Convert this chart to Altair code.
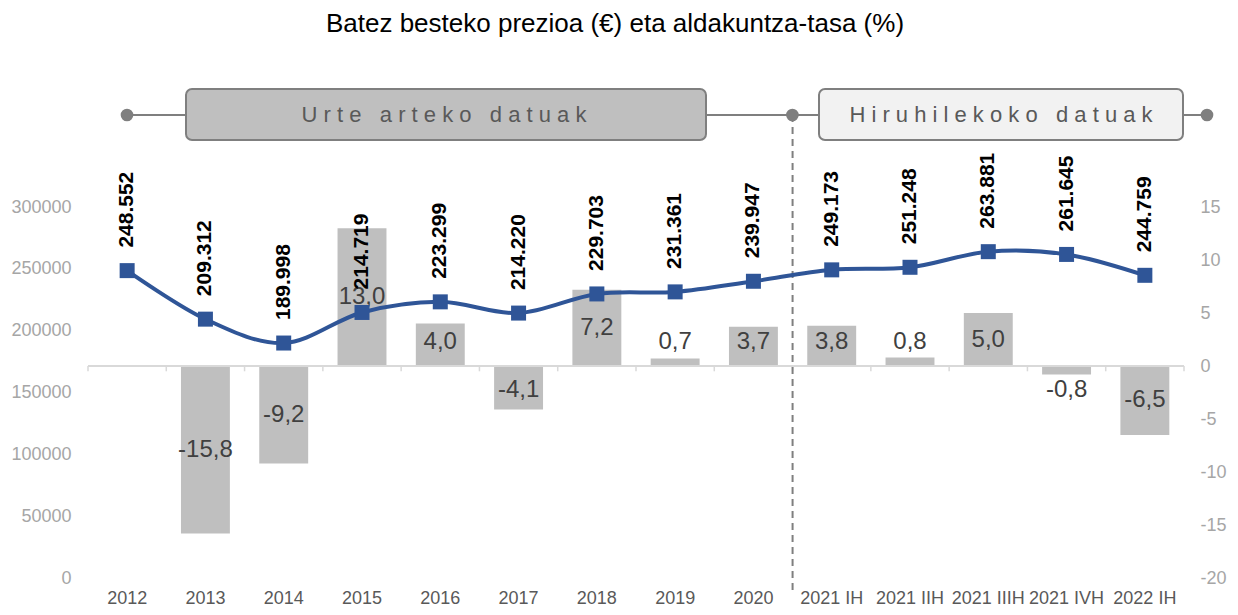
import altair as alt
import pandas as pd

# ---------------- data ----------------
categories = ["2012", "2013", "2014", "2015", "2016", "2017", "2018", "2019", "2020",
              "2021 IH", "2021 IIH", "2021 IIIH", "2021 IVH", "2022 IH"]
prices = [248552, 209312, 189998, 214719, 223299, 214220, 229703, 231361, 239947,
          249173, 251248, 263881, 261645, 244759]
rates = [None, -15.8, -9.2, 13.0, 4.0, -4.1, 7.2, 0.7, 3.7, 3.8, 0.8, 5.0, -0.8, -6.5]
left_ticks = [0, 50000, 100000, 150000, 200000, 250000, 300000]
right_ticks = [-20, -15, -10, -5, 0, 5, 10, 15]
title_text = "Batez besteko prezioa (€) eta aldakuntza-tasa (%)"
banner_labels = ["Urte arteko datuak", "Hiruhilekoko datuak"]
split_category = "2021 IH"

price_labels = [f"{p:,}".replace(",", ".") for p in prices]
rate_labels = ["" if r is None else f"{r:.1f}".replace(".", ",") for r in rates]

NB = "\u00a0"


def spaced(s):
    return (NB * 3).join(NB.join(w) for w in s.split(" "))


df = pd.DataFrame({"cat": categories, "price": prices, "rate": rates,
                   "price_label": price_labels, "rate_label": rate_labels})
one = pd.DataFrame({"k": [0]})

FONT = "Liberation Sans"
GRAY = "#7F7F7F"
BLUE = "#2F5597"

xscale = alt.Scale(domain=categories, paddingInner=0, paddingOuter=0)
x_axis = alt.Axis(title=None, labelAngle=0, labelColor="#595959", labelFontSize=18,
                  labelFont=FONT, ticks=False, domain=False, labelPadding=11,
                  labelOverlap=False, labelLimit=200, grid=False)
rscale = alt.Scale(domain=[-20, 15], nice=False, zero=False)
lscale = alt.Scale(domain=[0, 300000], nice=False)
r_axis = alt.Axis(orient="right", values=right_ticks, title=None,
                  labelExpr="datum.value + ''",
                  labelColor="#A6A6A6", labelFontSize=18, labelFont=FONT,
                  ticks=False, domain=False, grid=False, labelPadding=16)
l_axis = alt.Axis(orient="left", values=left_ticks, title=None,
                  labelExpr="datum.value + ''",
                  labelColor="#A6A6A6", labelFontSize=18, labelFont=FONT,
                  ticks=False, domain=False, grid=False, labelPadding=17)

X = alt.X("cat:N", scale=xscale, axis=x_axis)

base = alt.Chart(df)

# ------------- group A: rates (right axis) -------------
bars = base.mark_bar(width=alt.RelativeBandSize(0.625), color="#BFBFBF").encode(
    x=X,
    y=alt.Y("rate:Q", scale=rscale, axis=r_axis),
)
zero_line = base.mark_rule(color="#D9D9D9", strokeWidth=2).encode(
    y=alt.datum(0)
)
ticks = base.mark_rule(color="#D9D9D9", strokeWidth=1.5).encode(
    x=alt.X("cat:N", scale=xscale, axis=x_axis, bandPosition=0),
    y=alt.datum(0),
    y2=alt.datum(-0.5),
)
tick_end = base.transform_filter(f"datum.cat == '{categories[-1]}'").mark_rule(
    color="#D9D9D9", strokeWidth=1.5).encode(
    x=alt.X("cat:N", scale=xscale, axis=x_axis, bandPosition=1),
    y=alt.datum(0),
    y2=alt.datum(-0.5),
)
rate_text = base.transform_filter("isValid(datum.rate)").transform_calculate(
    lp="datum.rate >= 0 ? max(datum.rate / 2, 2.3) : min(datum.rate / 2, -2.3)"
).mark_text(fontSize=24, font=FONT, color="#404040", baseline="middle").encode(
    x=X,
    y=alt.Y("lp:Q", scale=rscale, axis=r_axis),
    text="rate_label:N",
)
group_a = alt.layer(bars, zero_line, ticks, tick_end, rate_text)

# ------------- dashed split line -------------
split_line = base.transform_filter(f"datum.cat == '{split_category}'").mark_rule(
    color=GRAY, strokeWidth=2, strokeDash=[7, 5]).encode(
    x=alt.X("cat:N", scale=xscale, axis=x_axis, bandPosition=0),
    y=alt.value(-92),
    y2=alt.value(388),
)

# ------------- group B: prices (left axis) -------------
line = base.mark_line(color=BLUE, strokeWidth=4, interpolate="cardinal").encode(
    x=X,
    y=alt.Y("price:Q", scale=lscale, axis=l_axis),
)
points = base.mark_point(shape="square", filled=True, size=225, color=BLUE,
                         opacity=1).encode(
    x=X,
    y=alt.Y("price:Q", scale=lscale, axis=l_axis),
)
price_text = base.mark_text(angle=270, align="left", baseline="middle", dx=23,
                            fontSize=21, fontWeight="bold", font=FONT,
                            color="#000000").encode(
    x=X,
    y=alt.Y("price:Q", scale=lscale, axis=l_axis),
    text="price_label:N",
)
group_b = alt.layer(line, points, price_text)

# ------------- banner -------------
oc = alt.Chart(one)
banner_line = oc.mark_rule(color=GRAY, strokeWidth=2).encode(
    x=alt.value(39), x2=alt.value(1119), y=alt.value(-92))
box1 = oc.mark_rect(cornerRadius=6, fill="#BFBFBF", stroke=GRAY, strokeWidth=2).encode(
    x=alt.value(98), x2=alt.value(618), y=alt.value(-118), y2=alt.value(-67))
box2 = oc.mark_rect(cornerRadius=6, fill="#F2F2F2", stroke=GRAY, strokeWidth=2).encode(
    x=alt.value(731), x2=alt.value(1095), y=alt.value(-118), y2=alt.value(-67))
circ = []
for cx in (39, 704.4, 1119):
    circ.append(oc.mark_point(shape="circle", filled=True, size=160, color=GRAY,
                              opacity=1).encode(x=alt.value(cx), y=alt.value(-92)))
txt1 = oc.mark_text(text=spaced(banner_labels[0]), fontSize=22, font=FONT,
                    color="#595959", align="center", baseline="middle").encode(
    x=alt.value(356), y=alt.value(-92))
txt2 = oc.mark_text(text=spaced(banner_labels[1]), fontSize=22, font=FONT,
                    color="#595959", align="center", baseline="middle").encode(
    x=alt.value(913), y=alt.value(-92))
title = oc.mark_text(text=title_text, fontSize=26, font=FONT, color="#000000",
                     align="center", baseline="middle").encode(
    x=alt.value(527), y=alt.value(-183))

chart = alt.layer(
    group_a, split_line, group_b, banner_line, box1, box2, *circ, txt1, txt2, title
).resolve_scale(y="independent").properties(
    width=1096, height=371,
    autosize=alt.AutoSizeParams(type="none"),
    padding={"left": 80, "top": 199, "right": 46, "bottom": 29},
).configure_view(stroke=None).configure_axis(grid=False)

chart.save("out.html", embed_options={"renderer": "svg", "actions": False})
